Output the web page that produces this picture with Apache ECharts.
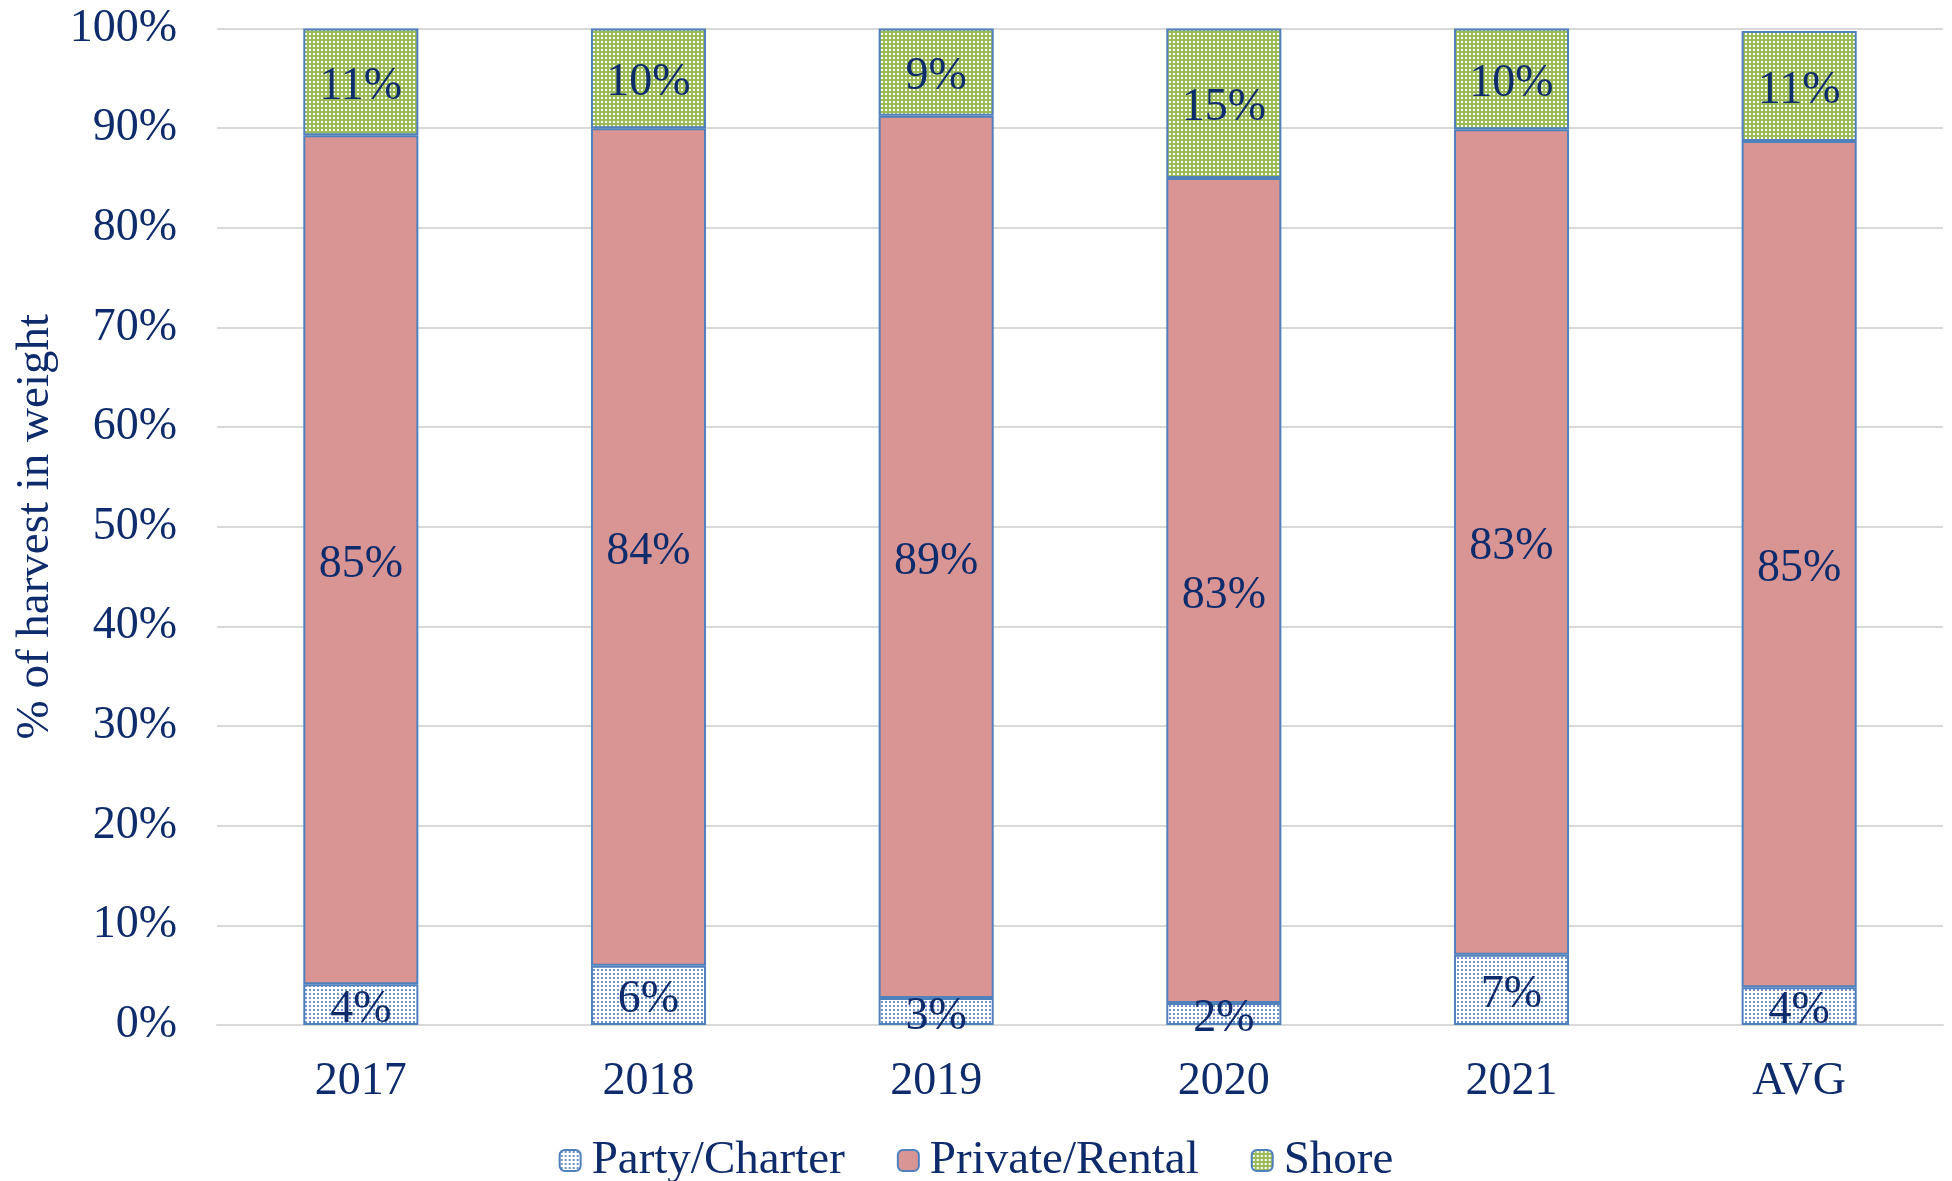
<!DOCTYPE html>
<html>
<head>
<meta charset="utf-8">
<style>
  html,body{margin:0;padding:0;background:#fff;}
  #chart{width:1952px;height:1181px;}
</style>
<script src="https://cdn.jsdelivr.net/npm/echarts@6/dist/echarts.min.js"></script>
</head>
<body>
<div id="chart"></div>
<script>
// values (% of harvest in weight)
var categories = ['2017', '2018', '2019', '2020', '2021', 'AVG'];
var partyCharter = [4.1, 5.95, 2.7, 2.2, 7.05, 3.8];
var privateRental = [85.2, 84.05, 88.55, 82.8, 82.85, 84.9];
var shore = [10.7, 10.0, 8.75, 15.0, 10.1, 11.05];
var seriesNames = ['Party/Charter', 'Private/Rental', 'Shore'];

var textColor = '#0E2B6B';
var borderBlue = '#4F81BD';
var fontFamily = '"Liberation Serif", "Times New Roman", serif';

// small dotted tiles like the excel pattern fills
function makeTile(bg, dot){
  var c = document.createElement('canvas');
  c.width = 4;
  c.height = 4;
  var ctx = c.getContext('2d');
  ctx.fillStyle = bg;
  ctx.fillRect(0, 0, 4, 4);
  ctx.fillStyle = dot;
  ctx.fillRect(1, 1, 2, 2);
  return c;
}

var partyFill = {image: makeTile('#ffffff', '#6F93C8'), repeat: 'repeat'};
var shoreFill = {image: makeTile('#9BBB59', '#ffffff'), repeat: 'repeat'};

function makeSeries(name, data, fill){
  return {
    name: name,
    type: 'bar',
    stack: 'total',
    barWidth: '40%',
    data: data,
    itemStyle: {
      color: fill,
      borderColor: borderBlue,
      borderWidth: 2
    },
    label: {
      show: true,
      position: 'inside',
      offset: [0, 5],
      color: textColor,
      fontFamily: fontFamily,
      fontSize: 46,
      formatter: function(p){
        return Math.round(p.value) + '%';
      }
    }
  };
}

var chart = echarts.init(document.getElementById('chart'), null, {renderer: 'canvas'});
chart.setOption({
  animation: false,
  textStyle: {fontFamily: fontFamily},
  grid: {left: 217, right: 9, top: 28.5, bottom: 156},
  legend: {
    data: seriesNames,
    left: 'center',
    top: 1132,
    itemWidth: 21,
    itemHeight: 21,
    itemGap: 52,
    textStyle: {color: textColor, fontSize: 47, fontFamily: fontFamily, padding: [0, 0, 0, 6]}
  },
  xAxis: {
    type: 'category',
    data: categories,
    axisLine: {lineStyle: {color: '#D9D9D9', width: 2}},
    axisTick: {show: false},
    axisLabel: {color: textColor, fontSize: 46, margin: 34, fontFamily: fontFamily}
  },
  yAxis: {
    type: 'value',
    min: 0,
    max: 100,
    interval: 10,
    name: '% of harvest in weight',
    nameLocation: 'middle',
    nameGap: 158,
    nameTextStyle: {color: textColor, fontSize: 47, fontFamily: fontFamily},
    axisLine: {show: false},
    axisTick: {show: false},
    axisLabel: {color: textColor, fontSize: 46, margin: 40, fontFamily: fontFamily, formatter: '{value}%', padding: [4, 0, 0, 0]},
    splitLine: {lineStyle: {color: '#D9D9D9', width: 2}}
  },
  series: [
    makeSeries(seriesNames[0], partyCharter, partyFill),
    makeSeries(seriesNames[1], privateRental, '#D99594'),
    makeSeries(seriesNames[2], shore, shoreFill)
  ]
});
</script>
</body>
</html>
